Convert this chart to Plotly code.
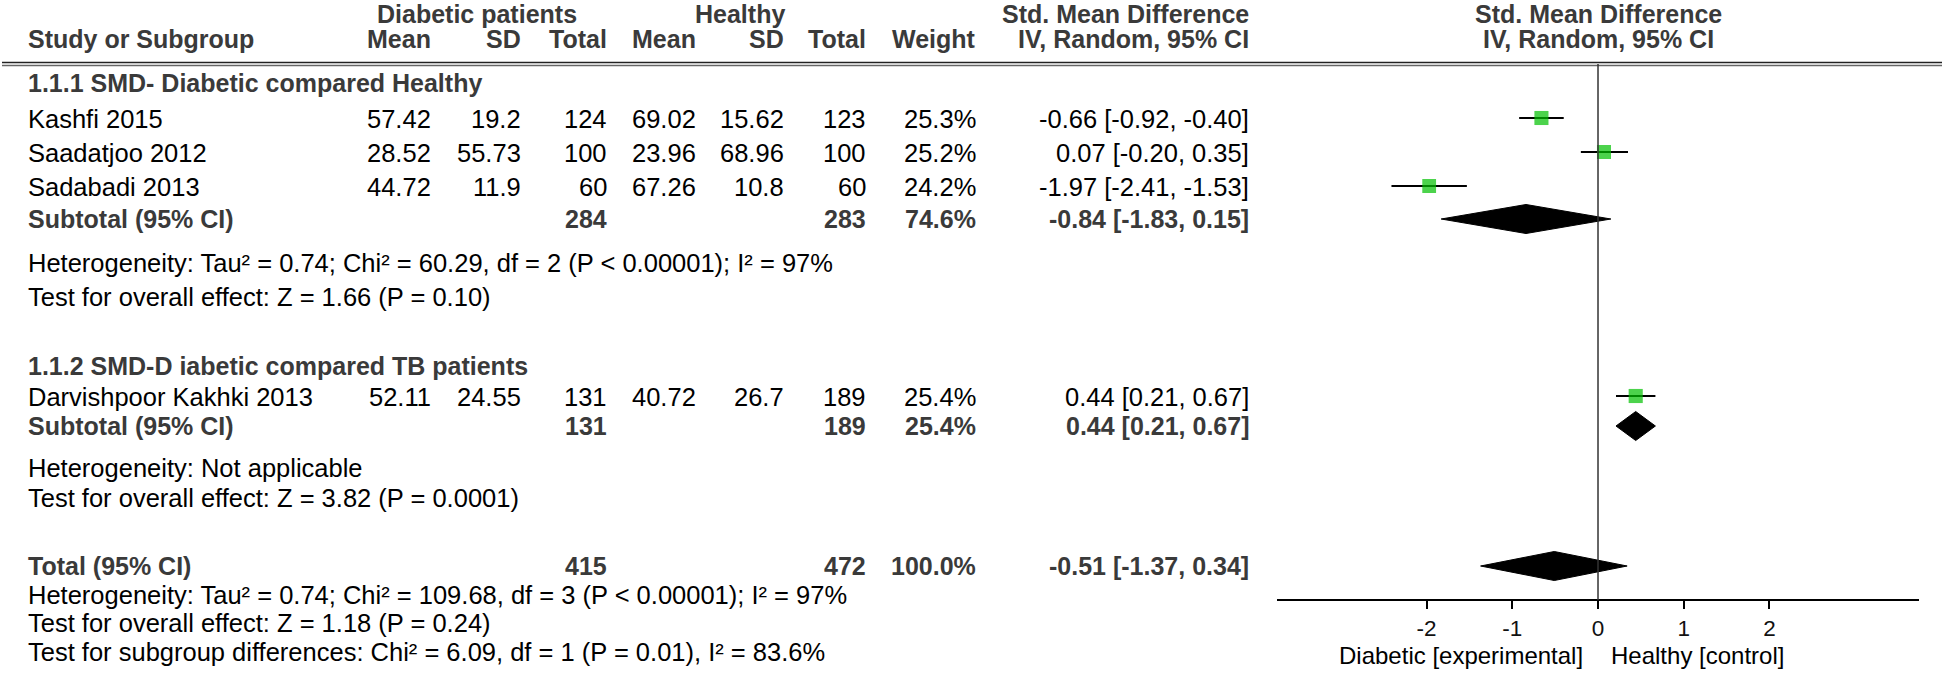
import plotly.graph_objects as go

# Dados dos estudos
studies = ["Kashfi 2015", "Saadatjoo 2012", "Sadabadi 2013", "Darvishpoor Kakhki 2013"]
dia_mean = ["57.42", "28.52", "44.72", "52.11"]
dia_sd = ["19.2", "55.73", "11.9", "24.55"]
dia_n = [124, 100, 60, 131]
hea_mean = ["69.02", "23.96", "67.26", "40.72"]
hea_sd = ["15.62", "68.96", "10.8", "26.7"]
hea_n = [123, 100, 60, 189]
weight = [25.3, 25.2, 24.2, 25.4]
smd = [-0.66, 0.07, -1.97, 0.44]
ci_lo = [-0.92, -0.20, -2.41, 0.21]
ci_hi = [-0.40, 0.35, -1.53, 0.67]

# Subtotais e total
sub_labels = ["Subtotal (95% CI)", "Subtotal (95% CI)", "Total (95% CI)"]
sub_dia_n = [284, 131, 415]
sub_hea_n = [283, 189, 472]
sub_weight = [74.6, 25.4, 100.0]
sub_smd = [-0.84, 0.44, -0.51]
sub_lo = [-1.83, 0.21, -1.37]
sub_hi = [0.15, 0.67, 0.34]

groups = ["1.1.1 SMD- Diabetic compared Healthy", "1.1.2 SMD-D iabetic compared TB patients"]
stats_text = [
    "Heterogeneity: Tau² = 0.74; Chi² = 60.29, df = 2 (P < 0.00001); I² = 97%",
    "Test for overall effect: Z = 1.66 (P = 0.10)",
    "Heterogeneity: Not applicable",
    "Test for overall effect: Z = 3.82 (P = 0.0001)",
    "Heterogeneity: Tau² = 0.74; Chi² = 109.68, df = 3 (P < 0.00001); I² = 97%",
    "Test for overall effect: Z = 1.18 (P = 0.24)",
    "Test for subgroup differences: Chi² = 6.09, df = 1 (P = 0.01), I² = 83.6%",
]
tick_vals = [-2, -1, 0, 1, 2]
tick_text = ["-2", "-1", "0", "1", "2"]

# Layout (pixels)
W, H = 1946, 691
row_y = [119, 153, 187, 397]
sub_y = [219, 426, 566]
group_y = [83, 366]
stats_y = [263, 297, 468, 498, 595, 623, 652]
axis_y = 600
line_y = 64
col_x = [433, 523, 609, 698, 786, 868, 978, 1251]  # bordas direitas
left_x = 26
zero_px, px_unit = 1598, 85.7
half_range = 3.75

font_reg = "Liberation Sans, Arial, sans-serif"
txt_color = "#000000"
bold_color = "#3a3a3a"
fs = 25.5
fs_bold = 25

fig = go.Figure()
annots = []


def add_text(x, y, text, anchor="left", bold=False, xref="x", size=None):
    annots.append(dict(
        x=x, y=y, xref=xref, yref="y", text=f"<b>{text}</b>" if bold else text,
        showarrow=False, xanchor=anchor, yanchor="middle",
        font=dict(family=font_reg, size=size or (fs_bold if bold else fs),
                  color=bold_color if bold else txt_color),
    ))


# Cabeçalho
add_text(477, 14, "Diabetic patients", "center", True)
add_text(740, 14, "Healthy", "center", True)
add_text(col_x[7], 14, "Std. Mean Difference", "right", True)
add_text(left_x, 39, "Study or Subgroup", "left", True)
for cx, t in zip(col_x, ["Mean", "SD", "Total", "Mean", "SD", "Total", "Weight", "IV, Random, 95% CI"]):
    add_text(cx, 39, t, "right", True)
add_text(0, 14, "Std. Mean Difference", "center", True, xref="x2")
add_text(0, 39, "IV, Random, 95% CI", "center", True, xref="x2")

# Grupos
for g, gy in zip(groups, group_y):
    add_text(left_x, gy, g, "left", True)

# Estudos
for i, s in enumerate(studies):
    y = row_y[i]
    add_text(left_x, y, s)
    vals = [dia_mean[i], dia_sd[i], dia_n[i], hea_mean[i], hea_sd[i], hea_n[i],
            f"{weight[i]:.1f}%", f"{smd[i]:.2f} [{ci_lo[i]:.2f}, {ci_hi[i]:.2f}]"]
    for cx, v in zip(col_x, vals):
        add_text(cx, y, str(v), "right")

# Subtotais
for i, lab in enumerate(sub_labels):
    y = sub_y[i]
    add_text(left_x, y, lab, "left", True)
    add_text(col_x[2], y, str(sub_dia_n[i]), "right", True)
    add_text(col_x[5], y, str(sub_hea_n[i]), "right", True)
    add_text(col_x[6], y, f"{sub_weight[i]:.1f}%", "right", True)
    add_text(col_x[7], y, f"{sub_smd[i]:.2f} [{sub_lo[i]:.2f}, {sub_hi[i]:.2f}]", "right", True)

for t, y in zip(stats_text, stats_y):
    add_text(left_x, y, t)

# Rótulos do eixo
add_text(-0.15, 655, "Diabetic [experimental]", "right", xref="x2", size=24)
add_text(0.13, 655, "Healthy [control]", "left", xref="x2", size=24)

# Quadrados com IC
fig.add_trace(go.Scatter(
    x=smd, y=[y - 1 for y in row_y], xaxis="x2", yaxis="y", mode="markers",
    marker=dict(symbol="square", size=[2.8 * w ** 0.5 for w in weight], color="#00C000",
                line=dict(width=0)),
    error_x=dict(type="data", symmetric=False,
                 array=[h - e for h, e in zip(ci_hi, smd)],
                 arrayminus=[e - l for e, l in zip(smd, ci_lo)],
                 color="black", thickness=2, width=0),
    hoverinfo="skip",
))

# Diamantes
dh = 14.5
for est, lo, hi, y in zip(sub_smd, sub_lo, sub_hi, sub_y):
    fig.add_trace(go.Scatter(
        x=[lo, est, hi, est, lo], y=[y, y - dh, y, y + dh, y],
        xaxis="x2", yaxis="y", mode="lines", fill="toself",
        fillcolor="black", line=dict(color="black", width=1), hoverinfo="skip",
    ))

shapes = [
    dict(type="line", xref="x", yref="y", x0=2, x1=1942, y0=line_y - 1.5, y1=line_y - 1.5,
         line=dict(color="#222222", width=1.5)),
    dict(type="line", xref="x", yref="y", x0=2, x1=1942, y0=line_y + 1.5, y1=line_y + 1.5,
         line=dict(color="#666666", width=1.5)),
    dict(type="line", xref="x2", yref="y", x0=0, x1=0, y0=line_y, y1=axis_y,
         line=dict(color="#333333", width=1.5)),
]

fig.update_layout(
    width=W, height=H, margin=dict(l=0, r=0, t=0, b=0),
    paper_bgcolor="white", plot_bgcolor="white", showlegend=False,
    annotations=annots, shapes=shapes,
    xaxis=dict(range=[0, W], domain=[0, 1], visible=False, anchor="y"),
    yaxis=dict(range=[H, 0], domain=[0, 1], visible=False),
    xaxis2=dict(
        domain=[(zero_px - half_range * px_unit) / W, (zero_px + half_range * px_unit) / W],
        range=[-half_range, half_range], anchor="free", position=1 - axis_y / H,
        showline=True, linecolor="black", linewidth=1.5, showgrid=False, zeroline=False,
        ticks="outside", ticklen=8, tickwidth=1.5, tickcolor="black",
        tickvals=tick_vals, ticktext=tick_text,
        tickfont=dict(family=font_reg, size=22.5, color="#111111"),
    ),
)

# margem padrão do <body> zerada para a figura começar em (0, 0)
fig.write_html("out.html", config={"displayModeBar": False},
               post_script="document.body.style.margin = '0';")
